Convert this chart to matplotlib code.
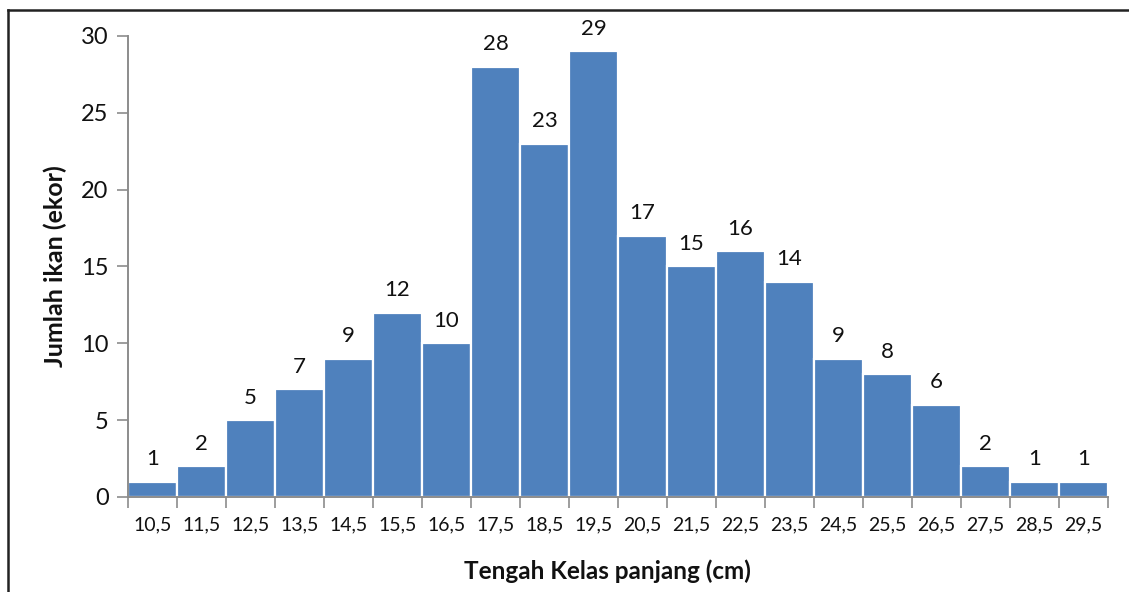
import matplotlib.pyplot as plt
from matplotlib.lines import Line2D
import numpy as np

plt.rcParams['font.family'] = ['Lato', 'DejaVu Sans']

# class mid-lengths (cm) and fish counts per class
kelas = ['10,5', '11,5', '12,5', '13,5', '14,5', '15,5', '16,5', '17,5', '18,5', '19,5',
         '20,5', '21,5', '22,5', '23,5', '24,5', '25,5', '26,5', '27,5', '28,5', '29,5']
jumlah = [1, 2, 5, 7, 9, 12, 10, 28, 23, 29, 17, 15, 16, 14, 9, 8, 6, 2, 1, 1]

bar_color = '#4F81BD'
axis_color = '#8C8C8C'
text_color = '#111111'

fig = plt.figure(figsize=(11.29, 5.92), dpi=100)
ax = fig.add_axes([0.1134, 0.1605, 0.868, 0.7787])

x = np.arange(len(kelas))
ax.bar(x, jumlah, width=1.0, color=bar_color, edgecolor='white', linewidth=1.6)

for xi, v in zip(x, jumlah):
    ax.annotate(str(v), (xi, v), xytext=(0, 9), textcoords='offset points',
                ha='center', va='bottom', fontsize=16, color=text_color)

ax.set_xlim(-0.5, len(kelas) - 0.5)
ax.set_ylim(0, 30)
ax.set_yticks(np.arange(0, 31, 5))
ax.tick_params(axis='y', labelsize=17, colors=axis_color, labelcolor=text_color,
               length=8, width=1.2, pad=6)

ax.set_xticks(x)
ax.set_xticklabels(kelas)
ax.set_xticks(np.arange(-0.5, len(kelas), 1.0), minor=True)
ax.tick_params(axis='x', which='major', length=0, labelsize=14,
               labelcolor=text_color, pad=14)
ax.tick_params(axis='x', which='minor', length=8, width=1.2, colors=axis_color)

for side in ('top', 'right'):
    ax.spines[side].set_visible(False)
for side in ('left', 'bottom'):
    ax.spines[side].set_color(axis_color)
    ax.spines[side].set_linewidth(1.4)

ax.set_xlabel('Tengah Kelas panjang (cm)', fontsize=17.5, fontweight='bold',
              color=text_color, labelpad=11)
ax.xaxis.set_label_coords(0.489, -0.135)
ax.set_ylabel('Jumlah ikan (ekor)', fontsize=18, fontweight='bold',
              color=text_color, labelpad=10)

# outer frame lines (left and top)
fig.add_artist(Line2D([8 / 1129, 8 / 1129], [0, 1 - 10 / 592], color='#222222', lw=1.8))
fig.add_artist(Line2D([8 / 1129, 1], [1 - 10 / 592, 1 - 10 / 592], color='#222222', lw=1.8))

fig.savefig('out.png', dpi=100)
